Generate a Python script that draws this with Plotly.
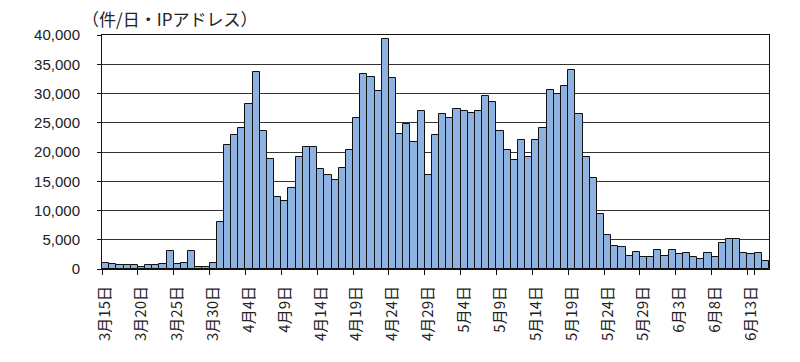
import pandas as pd
import plotly.graph_objects as go

# Categories: daily, March 15 to June 15
dates = pd.date_range("2013-03-15", "2013-06-15", freq="D")
categories = [f"{d.month}月{d.day}日" for d in dates]

# Daily counts (件/日・IPアドレス)
values_mar = [1100, 850, 600, 600, 600, 350, 600, 600, 850, 3100, 850, 1100,
              3050, 350, 350, 1100, 8000]
values_apr = [21250, 22900, 24150, 28150, 33600, 23600, 18850, 12250, 11550, 13900,
              19150, 20800, 20800, 17050, 16050, 15300, 17200, 20300, 25800, 33350,
              32900, 30500, 39250, 32600, 23150, 24850, 21700, 26950, 16050, 22950]
values_may = [26450, 25750, 27400, 26950, 26650, 26950, 29550, 28600, 23600, 20350,
              18650, 22000, 19150, 22000, 24150, 30550, 29900, 31250, 34100, 26450,
              19150, 15550, 9400, 5800, 3950, 3700, 2300, 2950, 2050, 2050, 3250]
values_jun = [2300, 3250, 2600, 2750, 2050, 1650, 2750, 2050, 4450, 5150, 5150,
              2750, 2550, 2750, 1350]
values = values_mar + values_apr + values_may + values_jun

tick_labels = categories[::5]
y_ticks = list(range(0, 40001, 5000))
unit_label = "（件/日・IPアドレス）"

fig = go.Figure(go.Bar(
    x=categories, y=values,
    marker=dict(color="#8EB3E0", line=dict(color="#111111", width=1)),
))

fig.update_layout(
    width=800, height=362,
    margin=dict(l=102, r=31, t=35, b=93),
    paper_bgcolor="white", plot_bgcolor="white",
    bargap=0,
    showlegend=False,
    font=dict(family="Liberation Sans, Arial, Noto Sans CJK JP", size=15, color="#222222"),
)

fig.update_xaxes(
    type="category",
    tickmode="array", tickvals=tick_labels, ticktext=tick_labels,
    tickson="boundaries",
    ticks="outside", ticklen=5, tickcolor="#111111",
    tickangle=-90,
    ticklabelstandoff=10,
    tickfont=dict(family="Noto Sans CJK JP, Liberation Sans", size=15, color="#222222"),
    showline=True, linecolor="#111111", linewidth=1, mirror=True,
    showgrid=False,
    range=[-0.5, len(categories) - 0.5],
)

fig.update_yaxes(
    range=[0, 40000],
    tickmode="array", tickvals=y_ticks,
    tickformat=",",
    ticks="outside", ticklen=4, tickcolor="#111111",
    ticklabelstandoff=14,
    showline=True, linecolor="#111111", linewidth=1, mirror=True,
    showgrid=True, gridcolor="#333333", gridwidth=1,
    zeroline=False,
)

fig.add_annotation(
    text=unit_label, xref="paper", yref="paper",
    x=-0.033, y=(269 - 18) / 234, xanchor="left", yanchor="middle",
    showarrow=False,
    font=dict(family="Noto Sans CJK JP", size=17, color="#222222"),
)

fig.write_html("out.html", config={"displayModeBar": False},
               post_script="document.body.style.margin='0';")
